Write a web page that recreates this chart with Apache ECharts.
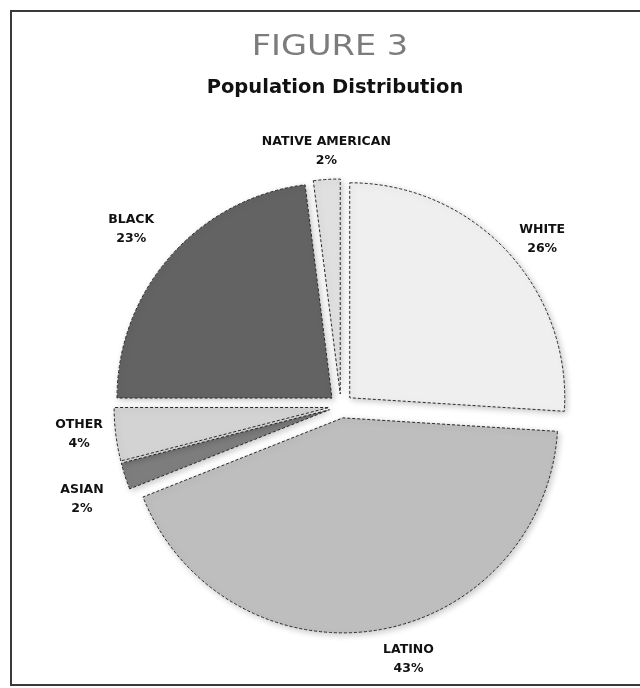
<!DOCTYPE html>
<html>
<head>
<meta charset="utf-8">
<script src="https://cdn.jsdelivr.net/npm/echarts@6/dist/echarts.min.js"></script>
<style>
  html, body { margin: 0; padding: 0; background: #fff; }
  #chart { width: 640px; height: 688px; }
</style>
</head>
<body>
<div id="chart"></div>
<script>
// Population shares, clockwise from 12 o'clock
const groups = ['WHITE', 'LATINO', 'ASIAN', 'OTHER', 'BLACK', 'NATIVE AMERICAN'];
const shares = [26, 43, 2, 4, 23, 2];
const sliceColors = ['#efefef', '#bebebe', '#7d7d7d', '#d3d3d3', '#636363', '#e0e0e0'];
// small nudges for the outer captions so they sit clear of the wedges
const captionNudge = [[8, 15], [26, -8], [-7, 11], [1, -5], [-11, -2], [2, 10]];

const pieCenter = [341, 406];
const labelFont = '"DejaVu Sans", "Open Sans", sans-serif';

const chart = echarts.init(document.getElementById('chart'), null, { renderer: 'canvas' });

const wedges = groups.map((g, i) => ({
  name: g,
  value: shares[i],
  selected: true,
  itemStyle: { color: sliceColors[i] }
}));

const captions = groups.map((g, i) => ({
  name: g,
  value: shares[i],
  label: { offset: captionNudge[i] }
}));

chart.setOption({
  animation: false,
  backgroundColor: '#ffffff',
  graphic: [
    {
      type: 'rect',
      silent: true,
      z: -1,
      shape: { x: 11, y: 11, width: 680, height: 674 },
      style: { fill: 'none', stroke: '#3a3a3a', lineWidth: 2 }
    },
    {
      // figure number, drawn a little wide like the printed heading
      type: 'text',
      silent: true,
      x: 330,
      y: 48,
      scaleX: 1.2,
      style: {
        text: 'FIGURE 3',
        fontFamily: '"DejaVu Sans", sans-serif',
        fontSize: 28,
        fill: '#7c7c7c',
        align: 'center',
        verticalAlign: 'middle'
      }
    },
    {
      type: 'text',
      silent: true,
      x: 335,
      y: 88,
      style: {
        text: 'Population Distribution',
        fontFamily: labelFont,
        fontWeight: 'bold',
        fontSize: 19.5,
        fill: '#111',
        align: 'center',
        verticalAlign: 'middle'
      }
    }
  ],
  series: [
    {
      type: 'pie',
      center: pieCenter,
      radius: 215,
      startAngle: 90,
      clockwise: true,
      selectedMode: 'multiple',
      selectedOffset: 12,
      avoidLabelOverlap: false,
      label: { show: false },
      labelLine: { show: false },
      emphasis: { disabled: true },
      itemStyle: {
        borderColor: '#2a2a2a',
        borderWidth: 1,
        borderType: [3, 2],
        shadowBlur: 6,
        shadowOffsetX: 2,
        shadowOffsetY: 2,
        shadowColor: 'rgba(0,0,0,0.22)'
      },
      data: wedges
    },
    {
      type: 'pie',
      center: pieCenter,
      radius: [252, 272],
      startAngle: 90,
      clockwise: true,
      silent: true,
      selectedMode: false,
      avoidLabelOverlap: false,
      emphasis: { disabled: true },
      itemStyle: { color: 'rgba(0,0,0,0)', borderWidth: 0 },
      labelLine: { show: false },
      label: {
        show: true,
        position: 'inside',
        formatter: p => p.name + '\n' + p.value + '%',
        fontFamily: labelFont,
        fontWeight: 'bold',
        fontSize: 12.5,
        lineHeight: 19,
        color: '#111',
        align: 'center'
      },
      data: captions
    }
  ]
});
</script>
</body>
</html>
